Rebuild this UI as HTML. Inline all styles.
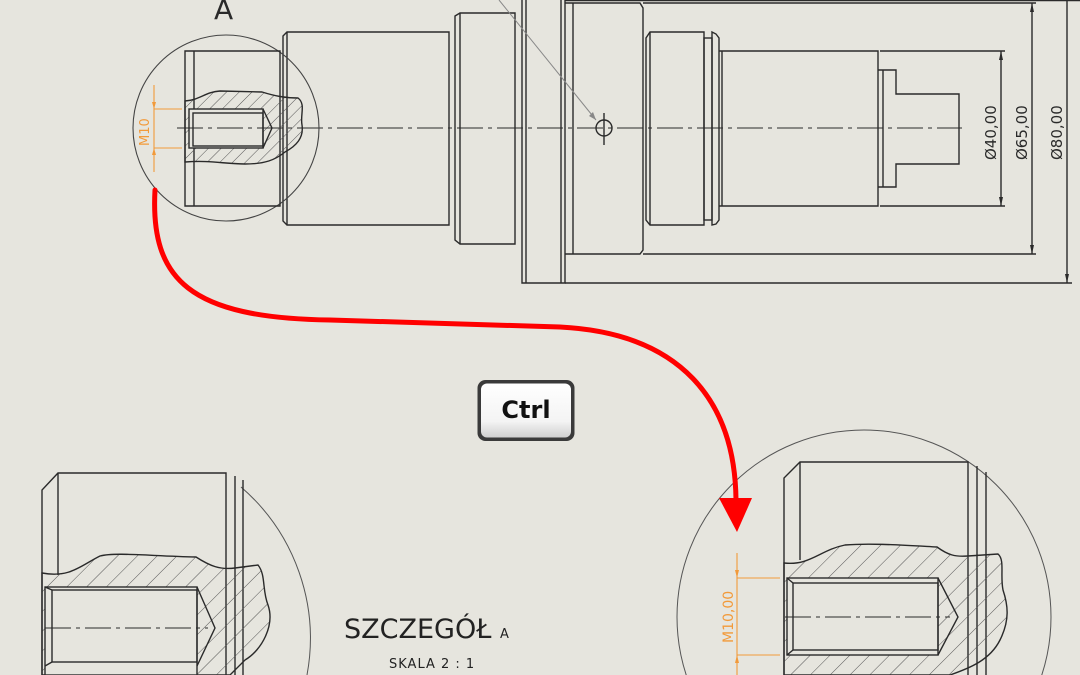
<!DOCTYPE html>
<html><head><meta charset="utf-8"><style>
html,body{margin:0;padding:0;background:#e6e5de;width:1080px;height:675px;overflow:hidden;}
svg{display:block}
text{font-family:"DejaVu Sans","Liberation Sans",sans-serif}
</style></head><body>
<svg width="1080" height="675" viewBox="0 0 1080 675" xmlns="http://www.w3.org/2000/svg">
<defs>
<pattern id="h" patternUnits="userSpaceOnUse" width="9" height="9" patternTransform="rotate(45)">
<line x1="0" y1="0" x2="0" y2="9" stroke="#555" stroke-width="1"/></pattern>
<pattern id="h2" patternUnits="userSpaceOnUse" width="14" height="14" patternTransform="rotate(45)">
<line x1="0" y1="0" x2="0" y2="14" stroke="#555" stroke-width="1"/></pattern>
<linearGradient id="kg" x1="0" y1="0" x2="0" y2="1"><stop offset="0" stop-color="#fff"/><stop offset="0.7" stop-color="#f4f4f4"/><stop offset="1" stop-color="#cfcfcf"/></linearGradient>
</defs>
<rect width="1080" height="675" fill="#e6e5de"/>
<g fill="none" stroke="#2a2a2a" stroke-width="1.4">
<path d="M283,36 L287,32 L449,32 L449,225 L287,225 L283,221 Z"/><line x1="287" y1="32" x2="287" y2="225"/>
<path d="M455,16 L460,13 L515,13 L515,244 L460,244 L455,240 Z"/><line x1="460" y1="13" x2="460" y2="244"/>
<path d="M522,0 L522,283 L565,283 L565,0"/><line x1="526" y1="0" x2="526" y2="283"/><line x1="561" y1="0" x2="561" y2="283"/>
<path d="M565,3 L640,3 L643,8 L643,250 L640,254 L565,254"/><line x1="573" y1="3" x2="573" y2="254"/>
<path d="M646,38 L650,32 L704,32 L704,225 L650,225 L646,220 Z"/><line x1="650" y1="32" x2="650" y2="225"/>
<rect x="704" y="38" width="8" height="182"/>
<path d="M712,32 L716,34 L719,38 L719,220 L716,224 L712,225 Z"/>
<path d="M719,51 L722,51 L878,51 L878,206 L722,206 L719,206"/><line x1="722" y1="51" x2="722" y2="206"/>
<path d="M878,70 L883,70 L896,70 L896,94 L959,94 L959,164 L896,164 L896,187 L883,187 L878,187"/><line x1="883" y1="70" x2="883" y2="187"/>
<line x1="565" y1="0.5" x2="1080" y2="0.5"/>
<line x1="565" y1="283" x2="1072" y2="283"/>
<line x1="643" y1="3" x2="1036" y2="3"/><line x1="643" y1="254" x2="1036" y2="254"/>
<line x1="880" y1="51" x2="1005" y2="51"/><line x1="880" y1="206" x2="1005" y2="206"/>
<line x1="1001" y1="51" x2="1001" y2="206"/><line x1="1032" y1="3" x2="1032" y2="254"/><line x1="1067" y1="0" x2="1067" y2="283"/>
<circle cx="604" cy="128" r="8"/><line x1="604" y1="113" x2="604" y2="145"/>
<line x1="177" y1="128" x2="962" y2="128" stroke-width="1" stroke-dasharray="26,5,4,5"/>
<circle cx="226" cy="128" r="93" stroke="#444" stroke-width="1.1"/>
<path d="M185,51 L191,51 L280,51 L280,206 L191,206 L185,206 Z"/><line x1="194" y1="51" x2="194" y2="206"/>
<path d="M185,101 C200,100 205,92 220,91 L262,92 C275,96 285,98 298,98 C306,104 300,115 302,125 C304,138 296,146 285,152 C275,160 265,164 245,164 C225,164 210,160 185,162 Z" fill="url(#h)"/>
<rect x="189" y="109" width="74" height="39" fill="#e6e5de"/>
<path d="M263,109 L272,128 L263,148"/>
<rect x="193" y="113" width="70" height="33"/>
<line x1="177" y1="128" x2="272" y2="128" stroke-width="1" stroke-dasharray="26,5,4,5"/>
</g>
<line x1="499" y1="0" x2="596" y2="120" stroke="#888" stroke-width="1"/>
<path d="M596,120 L589,116 L593,112 Z" fill="#888"/>
<g fill="#2a2a2a">
<path d="M1001,51 l-2,9 h4z"/><path d="M1001,206 l-2,-9 h4z"/>
<path d="M1032,3 l-2,9 h4z"/><path d="M1032,254 l-2,-9 h4z"/>
<path d="M1067,283 l-2,-9 h4z"/>
</g>
<g font-size="15" fill="#2a2a2a">
<text transform="translate(996,160) rotate(-90)">Ø40,00</text>
<text transform="translate(1027,160) rotate(-90)">Ø65,00</text>
<text transform="translate(1062,160) rotate(-90)">Ø80,00</text>
</g>
<text x="214" y="19" font-size="28" fill="#2a2a2a">A</text>
<g stroke="#f29a3a" stroke-width="1.1" fill="#f29a3a">
<line x1="154" y1="85" x2="154" y2="172"/><line x1="154" y1="109" x2="182" y2="109"/><line x1="154" y1="148" x2="182" y2="148"/>
<path d="M154,109 l-2,-7 h4z" stroke="none"/><path d="M154,148 l-2,7 h4z" stroke="none"/>
</g>
<text transform="translate(149,146) rotate(-90)" font-size="13" fill="#f29a3a">M10</text>
<g fill="none" stroke="#2a2a2a" stroke-width="1.4">
<path d="M241,487 A200,200 0 0 1 307,675" stroke="#555" stroke-width="1"/>
<path d="M42,675 L42,490 L58,473 L226,473 L226,675"/><line x1="58" y1="473" x2="58" y2="575"/>
<line x1="235" y1="476" x2="235" y2="675"/><line x1="243" y1="480" x2="243" y2="675"/>
<path d="M42,573 C70,578 80,566 100,556 C115,552 150,556 196,557 C210,566 220,570 235,568 L258,565 C266,575 262,590 268,605 C275,625 262,650 245,660 L230,675 L42,675 Z" fill="url(#h2)"/>
<rect x="45" y="587" width="152" height="88" fill="#e6e5de"/>
<path d="M197,587 L215,628 L197,666"/>
<rect x="52" y="590" width="145" height="72"/>
<line x1="45" y1="587" x2="52" y2="590"/><line x1="45" y1="666" x2="52" y2="662"/>
<line x1="45" y1="628" x2="208" y2="628" stroke-width="1" stroke-dasharray="26,5,4,5"/>
</g>
<text x="344" y="638" font-size="27" fill="#222">SZCZEGÓŁ <tspan font-size="13">A</tspan></text>
<text x="389" y="668" font-size="13" fill="#222" letter-spacing="1">SKALA 2 : 1</text>
<g fill="none" stroke="#2a2a2a" stroke-width="1.4">
<circle cx="864" cy="617" r="187" stroke="#555" stroke-width="1"/>
<path d="M784,675 L784,478 L800,462 L968,462 L968,675"/><line x1="800" y1="462" x2="800" y2="560"/>
<line x1="977" y1="466" x2="977" y2="675"/><line x1="986" y1="472" x2="986" y2="675"/>
<path d="M784,563 C810,566 820,550 845,545 C870,543 900,545 937,547 C948,555 955,557 968,556 L998,554 C1005,560 1000,575 1003,590 C1008,605 1010,620 1000,640 C990,660 970,668 950,675 L784,675 Z" fill="url(#h2)"/>
<rect x="787" y="578" width="151" height="77" fill="#e6e5de"/>
<path d="M938,578 L958,617 L938,655"/>
<rect x="793" y="583" width="145" height="67"/>
<line x1="787" y1="578" x2="793" y2="583"/><line x1="787" y1="655" x2="793" y2="650"/>
<line x1="785" y1="617" x2="950" y2="617" stroke-width="1" stroke-dasharray="26,5,4,5"/>
</g>
<g stroke="#f29a3a" stroke-width="1.1" fill="#f29a3a">
<line x1="737" y1="553" x2="737" y2="675"/><line x1="737" y1="578" x2="780" y2="578"/><line x1="737" y1="655" x2="780" y2="655"/>
<path d="M737,578 l-2,-8 h4z" stroke="none"/><path d="M737,655 l-2,8 h4z" stroke="none"/>
</g>
<text transform="translate(733,643) rotate(-90)" font-size="14" fill="#f29a3a">M10,00</text>
<path d="M155,190 C150,280 190,318 330,320 L560,327 C680,333 735,400 736,500" fill="none" stroke="#f00" stroke-width="5" stroke-linecap="round"/>
<path d="M719,498 L752,498 L737,532 Z" fill="#f00"/>
<rect x="477.5" y="380" width="97" height="61" rx="8" fill="#3a3a3a"/>
<rect x="481" y="383.5" width="90" height="54" rx="6" fill="url(#kg)"/>
<text x="526" y="418" font-size="24" font-weight="bold" text-anchor="middle" fill="#111" font-family="Liberation Sans, sans-serif">Ctrl</text>
</svg>
</body></html>
